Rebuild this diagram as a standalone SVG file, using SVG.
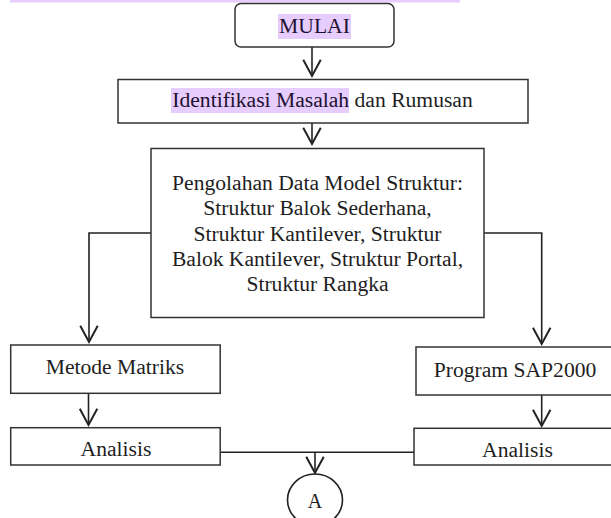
<svg xmlns="http://www.w3.org/2000/svg" width="611" height="518" viewBox="0 0 611 518">
<style>
.box{fill:#fff;stroke:#333;stroke-width:1.5}
.t{font-family:"Liberation Serif","Times New Roman",serif;font-size:21.6px;fill:#1e1e1e;text-anchor:middle}
.hl{fill:#e6cdfd}
.c{fill:none;stroke:#222;stroke-width:1.6}
.ah{fill:none;stroke:#222;stroke-width:1.6}
</style>
<defs>
<marker id="arr" markerUnits="userSpaceOnUse" markerWidth="20" markerHeight="20" refX="8" refY="14" orient="0" viewBox="0 0 16 16">
<path class="ah" d="M1,1 L8,14 L15,1"/>
</marker>
</defs>
<rect class="hl" x="10" y="0" width="450" height="2.5"/>
<g id="connectors">
<line class="c" x1="312" y1="47" x2="312" y2="76" marker-end="url(#arr)"/>
<line class="c" x1="312" y1="123" x2="312" y2="144" marker-end="url(#arr)"/>
<polyline class="c" points="151,233 89,233 89,342" marker-end="url(#arr)"/>
<polyline class="c" points="484,233 541.7,233 541.7,344" marker-end="url(#arr)"/>
<line class="c" x1="88.5" y1="393" x2="88.5" y2="425" marker-end="url(#arr)"/>
<line class="c" x1="541.7" y1="395" x2="541.7" y2="426" marker-end="url(#arr)"/>
<line class="c" x1="220" y1="452.3" x2="415" y2="452.3"/>
<line class="c" x1="315" y1="452.3" x2="315" y2="473" marker-end="url(#arr)"/>
</g>
<g id="mulai">
<rect class="box" x="235" y="3.5" width="159" height="43.5" rx="6"/>
<rect class="hl" x="278" y="14" width="73" height="25"/>
<text class="t" x="314.5" y="33.3" style="fill:#1f1030">MULAI</text>
</g>
<g id="identifikasi">
<rect class="box" x="118" y="79.5" width="410" height="43.5"/>
<rect class="hl" x="171" y="88" width="178" height="25"/>
<text class="t" x="322.5" y="106.5"><tspan style="fill:#1f1030">Identifikasi Masalah</tspan> dan Rumusan</text>
</g>
<g id="pengolahan">
<rect class="box" x="151" y="148.5" width="333" height="169"/>
<text class="t" x="317.5" y="190">Pengolahan Data Model Struktur:</text>
<text class="t" x="317.5" y="215.3">Struktur Balok Sederhana,</text>
<text class="t" x="317.5" y="240.5">Struktur Kantilever, Struktur</text>
<text class="t" x="317.5" y="265.7">Balok Kantilever, Struktur Portal,</text>
<text class="t" x="317.5" y="291">Struktur Rangka</text>
</g>
<g id="metode">
<rect class="box" x="10.7" y="345" width="209.5" height="48.3"/>
<text class="t" x="115" y="374">Metode Matriks</text>
</g>
<g id="sap2000">
<rect class="box" x="416" y="347" width="198" height="48"/>
<text class="t" x="515" y="377">Program SAP2000</text>
</g>
<g id="analisis-kiri">
<rect class="box" x="10.7" y="427.7" width="209.5" height="37.3"/>
<text class="t" x="116" y="456">Analisis</text>
</g>
<g id="analisis-kanan">
<rect class="box" x="414" y="428.3" width="207" height="36.7"/>
<text class="t" x="517.5" y="456.5">Analisis</text>
</g>
<g id="konektor-a">
<ellipse cx="315" cy="500" rx="27.5" ry="26" fill="#fff" stroke="#222" stroke-width="1.6"/>
<text class="t" x="315" y="508" style="font-size:20px">A</text>
</g>
</svg>
